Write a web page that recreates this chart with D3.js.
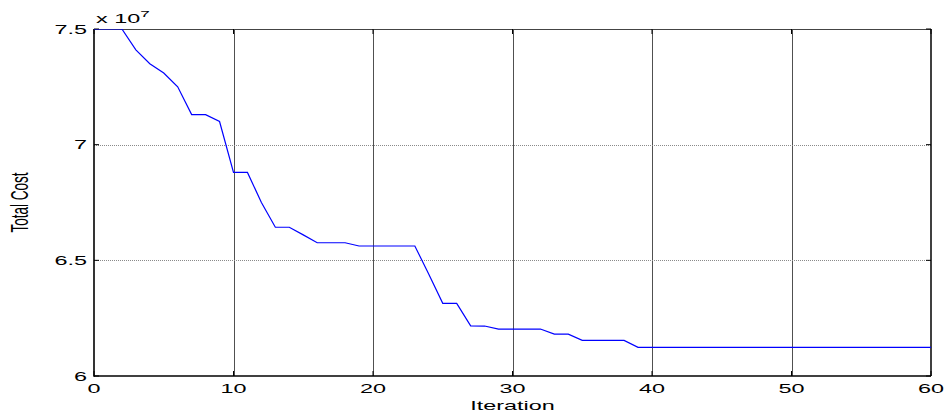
<!DOCTYPE html>
<html>
<head>
<meta charset="utf-8">
<script src="https://cdn.jsdelivr.net/npm/d3@7"></script>
<style>
  html, body { margin: 0; padding: 0; background: #fff; }
  svg { display: block; }
  text { font-family: "Liberation Sans", Arial, Helvetica, sans-serif; fill: #000; }
</style>
</head>
<body>
<svg id="chart" width="951" height="414"></svg>
<script>
// ---- data (Total Cost in units of 1e7) ----
const iterations = d3.range(0, 61);
const totalCost = [
  7.5, 7.5, 7.5, 7.41, 7.35, 7.31, 7.25, 7.13, 7.13, 7.10,
  6.88, 6.88, 6.75, 6.643, 6.643, 6.61, 6.576, 6.576, 6.576, 6.562,
  6.562, 6.562, 6.562, 6.562, 6.44, 6.314, 6.314, 6.217, 6.216, 6.203,
  6.203, 6.203, 6.203, 6.181, 6.181, 6.154, 6.154, 6.154, 6.154, 6.124,
  6.124, 6.124, 6.124, 6.124, 6.124, 6.124, 6.124, 6.124, 6.124, 6.124,
  6.124, 6.124, 6.124, 6.124, 6.124, 6.124, 6.124, 6.124, 6.124, 6.124,
  6.124
];
const xTicks = [0, 10, 20, 30, 40, 50, 60];
const yTicks = [6, 6.5, 7, 7.5];
const yTickLabels = ["6", "6.5", "7", "7.5"];
const xLabel = "Iteration";
const yLabel = "Total Cost";
const exponentLabel = "7";

// ---- layout ----
const pL = 94, pR = 931, pT = 29, pB = 376;
const sx = 1.8; // horizontal stretch of text in the reference
const fs = 13;

const svg = d3.select("#chart");
const x = d3.scaleLinear().domain([0, 60]).range([pL, pR]);
const y = d3.scaleLinear().domain([6, 7.5]).range([pB, pT]);

// clip
svg.append("defs").append("clipPath").attr("id", "plotclip")
  .append("rect").attr("x", pL).attr("y", pT).attr("width", pR - pL).attr("height", pB - pT);

// grid: vertical
svg.append("g").selectAll("line").data(xTicks.filter(d => d > 0 && d < 60)).join("line")
  .attr("x1", d => Math.round(x(d)) + 0.5).attr("x2", d => Math.round(x(d)) + 0.5)
  .attr("y1", pT).attr("y2", pB)
  .attr("stroke", "#505050").attr("stroke-width", 1);
// grid: horizontal
svg.append("g").selectAll("line").data(yTicks.filter(d => d > 6 && d < 7.5)).join("line")
  .attr("x1", pL).attr("x2", pR)
  .attr("y1", d => Math.round(y(d)) + 0.5).attr("y2", d => Math.round(y(d)) + 0.5)
  .attr("stroke", "#8a8a8a").attr("stroke-width", 1).attr("stroke-dasharray", "1,1");

// box
svg.append("line").attr("x1", pL).attr("x2", pR).attr("y1", pT + 0.5).attr("y2", pT + 0.5)
  .attr("stroke", "#444").attr("stroke-width", 1.2);
svg.append("line").attr("x1", pR).attr("x2", pR).attr("y1", pT).attr("y2", pB)
  .attr("stroke", "#000").attr("stroke-width", 1.5);

// ticks (inside)
const tl = 5;
const tg = svg.append("g").attr("stroke", "#000").attr("stroke-width", 1);
xTicks.forEach(d => {
  tg.append("line").attr("x1", x(d)).attr("x2", x(d)).attr("y1", pB).attr("y2", pB - tl);
  tg.append("line").attr("x1", x(d)).attr("x2", x(d)).attr("y1", pT).attr("y2", pT + tl);
});
yTicks.forEach(d => {
  tg.append("line").attr("x1", pL).attr("x2", pL + tl).attr("y1", y(d)).attr("y2", y(d));
  tg.append("line").attr("x1", pR).attr("x2", pR - tl).attr("y1", y(d)).attr("y2", y(d));
});

// axes lines left/bottom
svg.append("line").attr("x1", pL).attr("x2", pL).attr("y1", pT).attr("y2", pB + 0.8)
  .attr("stroke", "#000").attr("stroke-width", 1.6);
svg.append("line").attr("x1", pL).attr("x2", pR).attr("y1", pB).attr("y2", pB)
  .attr("stroke", "#000").attr("stroke-width", 1.6);

// data line
const line = d3.line().x((d, i) => x(iterations[i])).y(d => y(d));
svg.append("path").datum(totalCost)
  .attr("clip-path", "url(#plotclip)")
  .attr("d", line)
  .attr("fill", "none").attr("stroke", "#0000ff").attr("stroke-width", 1.2);

// tick labels
const stretched = (g, tx, ty, extra) => g.append("g").attr("transform", `translate(${tx},${ty}) scale(${sx},1)` + (extra || ""));

xTicks.forEach(d => {
  stretched(svg, x(d), 393).append("text")
    .attr("text-anchor", "middle").attr("font-size", fs).text(d);
});
yTicks.forEach((d, i) => {
  stretched(svg, 87, y(d) + 4.5).append("text")
    .attr("text-anchor", "end").attr("font-size", fs).text(yTickLabels[i]);
});

// exponent label
const ex = stretched(svg, 96, 23).append("text").attr("font-size", fs);
ex.append("tspan").text("x 10");
ex.append("tspan").attr("dy", -6).attr("font-size", 9.5).text(exponentLabel);

// axis labels
stretched(svg, (pL + pR) / 2, 410).append("text")
  .attr("text-anchor", "middle").attr("font-size", fs).text(xLabel);
stretched(svg, 28, (pT + pB) / 2, " rotate(-90)").append("text")
  .attr("text-anchor", "middle").attr("font-size", 13.5).text(yLabel);
</script>
</body>
</html>
